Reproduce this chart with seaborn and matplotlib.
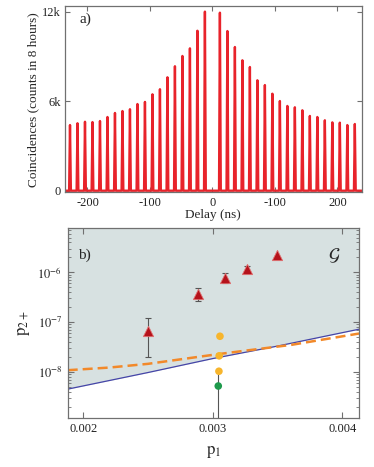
import numpy as np
import pandas as pd
import matplotlib
matplotlib.use("Agg")
import matplotlib.pyplot as plt
import seaborn as sns

# a) coincidence histogram, one peak every 12 ns, heights in thousands of counts
peak_spacing = 12
left_peaks_k = [4.40, 4.52, 4.62, 4.60, 4.67, 4.94, 5.21, 5.34, 5.46, 5.81, 5.95,
                6.46, 6.80, 7.60, 8.34, 9.03, 9.54, 10.72, 12.00]
right_peaks_k = [11.93, 10.70, 9.63, 8.74, 8.29, 7.40, 7.08, 6.50, 6.01, 5.68, 5.59,
                 5.39, 5.01, 4.94, 4.72, 4.58, 4.56, 4.40, 4.47]
delay_ticks = [-200, -100, 0, 100, 200]
delay_labels = ["-200", "-100", "0", "-100", "200"]
count_ticks = [0, 6000, 12000]
count_labels = ["0", "6k", "12k"]

# b) p2+ versus p1
tri_p1 = [0.002502, 0.002888, 0.003094, 0.003262, 0.003493]
tri_p2 = [6.5e-8, 3.6e-7, 7.6e-7, 1.15e-6, 2.2e-6]
tri_lo = [2.0e-8, 2.6e-7, 6.2e-7, 1.0e-6, 2.05e-6]
tri_hi = [1.2e-7, 4.9e-7, 9.5e-7, 1.34e-6, 2.35e-6]
orange_p1 = [0.003056, 0.003050, 0.003048]
orange_p2 = [5.2e-8, 2.1e-8, 1.03e-8]
green_p1 = [0.003043]
green_p2 = [5.2e-9]
green_lo = [1e-10]
green_hi = [1.0e-8]
bound_p1 = [0.00188, 0.0025, 0.003, 0.0035, 0.00413]
bound_p2 = [4.5e-9, 9.7e-9, 1.85e-8, 3.3e-8, 7.2e-8]
model_p1 = [0.00188, 0.0022, 0.0025, 0.00304, 0.00361, 0.00413]
model_p2 = [1.08e-8, 1.22e-8, 1.45e-8, 2.27e-8, 3.5e-8, 5.9e-8]
p1_ticks = [0.002, 0.003, 0.004]

sns.set_style("ticks")
plt.rcParams["font.family"] = ["Liberation Serif", "DejaVu Serif"]
plt.rcParams["mathtext.fontset"] = "stix"
plt.rcParams["axes.edgecolor"] = "#707070"
plt.rcParams["xtick.color"] = "#707070"
plt.rcParams["ytick.color"] = "#707070"
plt.rcParams["xtick.labelcolor"] = "#222222"
plt.rcParams["ytick.labelcolor"] = "#222222"
plt.rcParams["axes.linewidth"] = 0.9

fig = plt.figure(figsize=(3.74, 4.67), dpi=100)

# ---- panel a
ax1 = fig.add_axes([0.1738, 0.5878, 0.7933, 0.3994])
xlim_a = (-236, 239)
heights = np.array(left_peaks_k + right_peaks_k) * 1000
n_left = len(left_peaks_k)
delays = np.concatenate([-peak_spacing * np.arange(n_left, 0, -1),
                         peak_spacing * np.arange(1, len(right_peaks_k) + 1)])
xs, ys = [xlim_a[0]], [0]
for d, h in zip(delays, heights):
    xs += [d - 1.4, d, d + 1.4]
    ys += [0, h, 0]
xs.append(xlim_a[1])
ys.append(0)
trace = pd.DataFrame({"delay": xs, "counts": ys})
sns.lineplot(data=trace, x="delay", y="counts", estimator=None, sort=False,
             color="#e8232b", lw=1.7, ax=ax1)
ax1.set_xlim(*xlim_a)
ax1.set_ylim(-120, 12380)
ax1.set_xticks(delay_ticks)
ax1.set_xticklabels(delay_labels)
ax1.set_yticks(count_ticks)
ax1.set_yticklabels(count_labels)
ax1.tick_params(direction="in", top=True, right=True, length=3.5, labelsize=9, pad=3)
ax1.set_xlabel("Delay (ns)", fontsize=9.5, labelpad=0)
ax1.set_ylabel("Coincidences (counts in 8 hours)", fontsize=9.5, labelpad=2)
ax1.text(0.05, 0.93, "a)", transform=ax1.transAxes, fontsize=11, va="center")

# ---- panel b
ax2 = fig.add_axes([0.181, 0.1056, 0.7789, 0.4062])
ylim_b = (1.2e-9, 7.8e-6)
ax2.fill_between(bound_p1, bound_p2, ylim_b[1], color="#d7e1e1", lw=0, zorder=0)
sns.lineplot(x=bound_p1, y=bound_p2, color="#4545a8", lw=0.9, ax=ax2)
sns.lineplot(x=model_p1, y=model_p2, color="#f2892a", lw=1.8, ax=ax2)
ax2.lines[-1].set_dashes([4, 2])

err_kw = dict(fmt="none", ecolor="#555555", elinewidth=0.8, capsize=2.2, capthick=0.8, zorder=3)
ax2.errorbar(tri_p1[:4], tri_p2[:4],
             yerr=[np.subtract(tri_p2, tri_lo)[:4], np.subtract(tri_hi, tri_p2)[:4]], **err_kw)
ax2.errorbar(green_p1, green_p2,
             yerr=[np.subtract(green_p2, green_lo), np.subtract(green_hi, green_p2)],
             fmt="none", ecolor="#555555", elinewidth=0.8, capsize=0, zorder=3)
sns.scatterplot(x=tri_p1, y=tri_p2, marker="^", s=55, color="#b5121b",
                edgecolor="#e07070", linewidth=0.6, zorder=4, ax=ax2)
sns.scatterplot(x=orange_p1, y=orange_p2, marker="o", s=30, color="#f7b52c",
                edgecolor="none", zorder=4, ax=ax2)
sns.scatterplot(x=green_p1, y=green_p2, marker="o", s=30, color="#1e9a4c",
                edgecolor="none", zorder=4, ax=ax2)

ax2.set_yscale("log")
ax2.set_xlim(0.00188, 0.00413)
ax2.set_ylim(*ylim_b)
ax2.set_xticks(p1_ticks)
ax2.set_xticklabels([f"{v:.3f}" for v in p1_ticks])
ax2.set_yticks([1e-8, 1e-7, 1e-6])
ax2.set_yticklabels([r"$10^{-8}$", r"$10^{-7}$", r"$10^{-6}$"])
ax2.tick_params(which="both", direction="in", top=True, right=True, labelsize=9, pad=4)
ax2.tick_params(which="major", length=4)
ax2.tick_params(which="minor", length=2)
ax2.set_xlabel(r"$\mathrm{p}_1$", fontsize=12, labelpad=6)
ax2.set_ylabel(r"$\mathrm{p}_{2+}$", fontsize=12, labelpad=4)
ax2.text(0.035, 0.855, "b)", transform=ax2.transAxes, fontsize=11, va="center")
ax2.text(0.915, 0.855, r"$\mathcal{G}$", transform=ax2.transAxes, fontsize=13,
         va="center", ha="center")

fig.savefig("out.png", dpi=100)
